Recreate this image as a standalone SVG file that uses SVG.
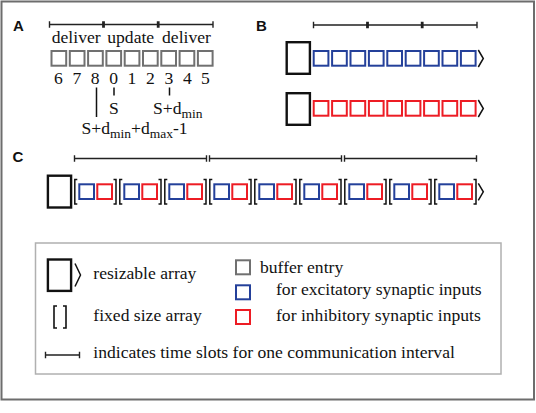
<svg xmlns="http://www.w3.org/2000/svg" width="536" height="413" viewBox="0 0 536 413">
<style>
.t{font-family:"Liberation Serif","Times New Roman",serif;font-size:17.6px;fill:#111}
.sub{font-size:13.5px}
.lbl{font-family:"Liberation Sans",Arial,sans-serif;font-weight:bold;font-size:15px;fill:#111}
.gb{fill:#fff;stroke:#707070;stroke-width:2}
.bb{fill:#fff;stroke:#24409a;stroke-width:2}
.rb{fill:#fff;stroke:#ed1c24;stroke-width:2}
.big{fill:#fff;stroke:#111;stroke-width:2.4}
.ln{fill:none;stroke:#111;stroke-width:1.5}
.tl{fill:none;stroke:#222;stroke-width:1.4}
</style>
<defs>
<path id="chev" d="M0,0 L5,8.5 L0,17" fill="none" stroke="#111" stroke-width="1.5"/>
<path id="lb" d="M3.3,0 H0.8 V24.5 H3.3" fill="none" stroke="#111" stroke-width="1.5"/>
<path id="rbk" d="M-2.5,0 H0 V24.5 H-2.5" fill="none" stroke="#111" stroke-width="1.5"/>
<rect id="gbox" class="gb" width="14.7" height="14.7"/>
<rect id="bbox" class="bb" width="14.7" height="14.7"/>
<rect id="rbox" class="rb" width="14.7" height="14.7"/>
</defs>
<rect x="1.5" y="1.5" width="532.5" height="398" fill="#fff" stroke="#6d6d6d" stroke-width="2"/>

<g id="labels">
<text class="lbl" x="13" y="31">A</text>
<text class="lbl" x="256" y="31">B</text>
<text class="lbl" x="12.5" y="162">C</text>
</g>

<g id="connectors">
<!-- timeline A -->
<path class="tl" d="M49.5,24.5 H102.8 M104.2,24.5 H157.5 M158.9,24.5 H213 M49.5,21.2 V27.8 M102.8,21.2 V27.8 M104.2,21.2 V27.8 M157.5,21.2 V27.8 M158.9,21.2 V27.8 M213,21.2 V27.8"/>
<!-- timeline B -->
<path class="tl" d="M313.5,25 H366.8 M368.2,25 H421.5 M422.9,25 H477 M313.5,21.7 V28.3 M366.8,21.7 V28.3 M368.2,21.7 V28.3 M421.5,21.7 V28.3 M422.9,21.7 V28.3 M477,21.7 V28.3"/>
<!-- timeline C -->
<path class="tl" d="M74.5,158.5 H206.5 M209.5,158.5 H341.5 M344.5,158.5 H476.5 M74.5,155.2 V161.8 M206.5,155.2 V161.8 M209.5,155.2 V161.8 M341.5,155.2 V161.8 M344.5,155.2 V161.8 M476.5,155.2 V161.8"/>
<!-- pointer lines A -->
<path class="ln" d="M96.5,87.5 V117 M114,87.5 V95.5 M169.5,87.5 V95.5"/>
</g>

<g id="panelA">
<text class="t" x="76.2" y="43" text-anchor="middle">deliver</text>
<text class="t" x="130.7" y="43" text-anchor="middle">update</text>
<text class="t" x="186.5" y="43" text-anchor="middle">deliver</text>
<use href="#gbox" x="51.5" y="51"/>
<use href="#gbox" x="69.8" y="51"/>
<use href="#gbox" x="88.1" y="51"/>
<use href="#gbox" x="106.4" y="51"/>
<use href="#gbox" x="124.7" y="51"/>
<use href="#gbox" x="143" y="51"/>
<use href="#gbox" x="161.3" y="51"/>
<use href="#gbox" x="179.6" y="51"/>
<use href="#gbox" x="197.9" y="51"/>
<g class="t" text-anchor="middle">
<text class="t" x="58.5" y="83.5">6</text>
<text class="t" x="76.8" y="83.5">7</text>
<text class="t" x="95.2" y="83.5">8</text>
<text class="t" x="113.6" y="83.5">0</text>
<text class="t" x="132" y="83.5">1</text>
<text class="t" x="150.3" y="83.5">2</text>
<text class="t" x="168.8" y="83.5">3</text>
<text class="t" x="187.5" y="83.5">4</text>
<text class="t" x="205.5" y="83.5">5</text>
</g>
<text class="t" x="114" y="113.5" text-anchor="middle">S</text>
<text class="t" x="153" y="113.5">S+d<tspan class="sub" dy="4.5">min</tspan></text>
<text class="t" x="81.5" y="133.5">S+d<tspan class="sub" dy="4.5">min</tspan><tspan dy="-4.5">+d</tspan><tspan class="sub" dy="4.5">max</tspan><tspan dy="-4.5">-1</tspan></text>
</g>

<g id="panelB-excitatory">
<rect class="big" x="286.7" y="42.2" width="23.2" height="31.6"/>
<use href="#bbox" x="313.7" y="51"/>
<use href="#bbox" x="332.1" y="51"/>
<use href="#bbox" x="350.5" y="51"/>
<use href="#bbox" x="368.9" y="51"/>
<use href="#bbox" x="387.3" y="51"/>
<use href="#bbox" x="405.7" y="51"/>
<use href="#bbox" x="424.1" y="51"/>
<use href="#bbox" x="442.5" y="51"/>
<use href="#bbox" x="460.9" y="51"/>
<use href="#chev" x="478.3" y="50"/>
</g>

<g id="panelB-inhibitory">
<rect class="big" x="286.7" y="93.2" width="23.2" height="31.6"/>
<use href="#rbox" x="313.7" y="101"/>
<use href="#rbox" x="332.1" y="101"/>
<use href="#rbox" x="350.5" y="101"/>
<use href="#rbox" x="368.9" y="101"/>
<use href="#rbox" x="387.3" y="101"/>
<use href="#rbox" x="405.7" y="101"/>
<use href="#rbox" x="424.1" y="101"/>
<use href="#rbox" x="442.5" y="101"/>
<use href="#rbox" x="460.9" y="101"/>
<use href="#chev" x="478.3" y="100"/>
</g>

<g id="panelC">
<rect class="big" x="47.9" y="175.7" width="23.2" height="31.8"/>
<g transform="translate(74,0)"><use href="#lb" y="179.5"/><use href="#bbox" x="5.3" y="184.3"/><use href="#rbox" x="23.3" y="184.3"/><use href="#rbk" x="42" y="179.5"/></g>
<g transform="translate(119,0)"><use href="#lb" y="179.5"/><use href="#bbox" x="5.3" y="184.3"/><use href="#rbox" x="23.3" y="184.3"/><use href="#rbk" x="42" y="179.5"/></g>
<g transform="translate(164,0)"><use href="#lb" y="179.5"/><use href="#bbox" x="5.3" y="184.3"/><use href="#rbox" x="23.3" y="184.3"/><use href="#rbk" x="42" y="179.5"/></g>
<g transform="translate(209,0)"><use href="#lb" y="179.5"/><use href="#bbox" x="5.3" y="184.3"/><use href="#rbox" x="23.3" y="184.3"/><use href="#rbk" x="42" y="179.5"/></g>
<g transform="translate(254,0)"><use href="#lb" y="179.5"/><use href="#bbox" x="5.3" y="184.3"/><use href="#rbox" x="23.3" y="184.3"/><use href="#rbk" x="42" y="179.5"/></g>
<g transform="translate(299,0)"><use href="#lb" y="179.5"/><use href="#bbox" x="5.3" y="184.3"/><use href="#rbox" x="23.3" y="184.3"/><use href="#rbk" x="42" y="179.5"/></g>
<g transform="translate(344,0)"><use href="#lb" y="179.5"/><use href="#bbox" x="5.3" y="184.3"/><use href="#rbox" x="23.3" y="184.3"/><use href="#rbk" x="42" y="179.5"/></g>
<g transform="translate(389,0)"><use href="#lb" y="179.5"/><use href="#bbox" x="5.3" y="184.3"/><use href="#rbox" x="23.3" y="184.3"/><use href="#rbk" x="42" y="179.5"/></g>
<g transform="translate(434,0)"><use href="#lb" y="179.5"/><use href="#bbox" x="5.3" y="184.3"/><use href="#rbox" x="23.3" y="184.3"/><use href="#rbk" x="42" y="179.5"/></g>
<use href="#chev" x="478.3" y="183.3"/>
</g>

<g id="legend">
<rect x="35.5" y="243" width="465.5" height="131" fill="#fff" stroke="#b0b0b0" stroke-width="1.5"/>
<rect class="big" x="47.9" y="259.5" width="23.2" height="31.4"/>
<path d="M75,263.5 L80.5,275 L75,286.5" fill="none" stroke="#111" stroke-width="1.5"/>
<text class="t" x="93.3" y="279.3">resizable array</text>
<path d="M57,306 H54 V328 H57 M63,306 H66 V328 H63" fill="none" stroke="#111" stroke-width="1.6"/>
<text class="t" x="93.3" y="320.7">fixed size array</text>
<path class="tl" d="M45.5,355 H79.5 M45.5,351.7 V358.3 M79.5,351.7 V358.3"/>
<text class="t" x="93.3" y="358.3">indicates time slots for one communication interval</text>
<rect class="gb" x="236" y="260.3" width="14" height="14"/>
<text class="t" x="260" y="273.3">buffer entry</text>
<rect class="bb" x="236" y="285.3" width="14" height="14"/>
<text class="t" x="276" y="295">for excitatory synaptic inputs</text>
<rect class="rb" x="236" y="310" width="14" height="14"/>
<text class="t" x="276" y="320.7">for inhibitory synaptic inputs</text>
</g>
</svg>
